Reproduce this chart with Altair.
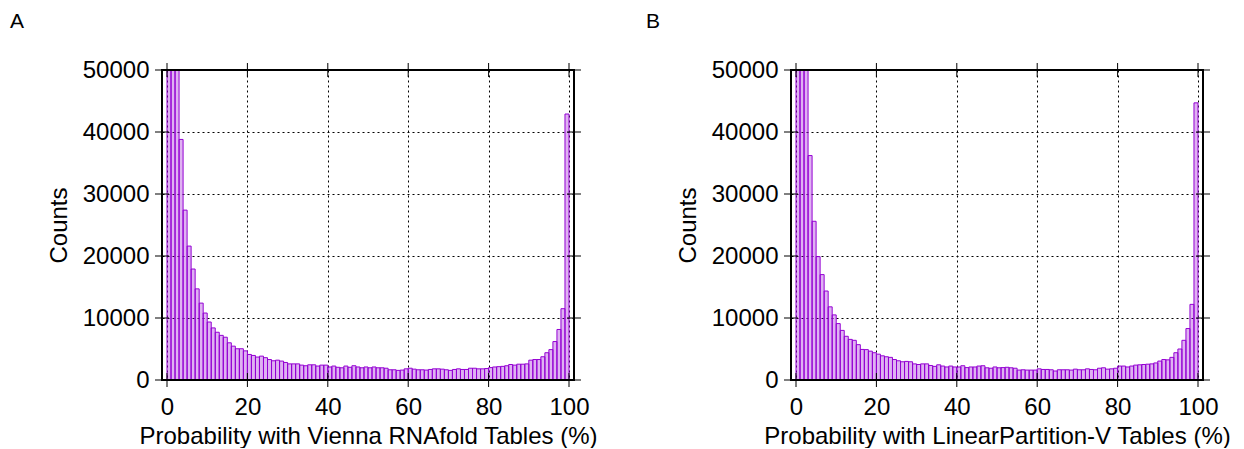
import altair as alt
import pandas as pd

bin_start = list(range(0, 100))
bin_end = list(range(1, 101))

counts_vienna = [
    150000, 90000, 62000, 38800, 27400, 21600, 17900, 14700, 12400, 10800,
    9350, 8400, 7700, 7200, 6900, 6000, 5460, 5040, 5040, 4700,
    4120, 3960, 3700, 3850, 3600, 3300, 3100, 3200, 3050, 2830,
    2600, 2600, 2600, 2400, 2300, 2450, 2450, 2250, 2400, 2400,
    2100, 2250, 2050, 1970, 2250, 2050, 2300, 2100, 1970, 2100,
    1970, 2100, 1970, 1970, 1900, 1650, 1650, 1550, 1600, 1800,
    1900, 1750, 1650, 1650, 1600, 1700, 1800, 1800, 1750, 1650,
    1550, 1700, 1800, 1700, 1700, 1900, 1900, 1800, 1800, 1850,
    2000, 2100, 2150, 2200, 2300, 2500, 2400, 2550, 2550, 2600,
    3200, 3300, 3300, 3750, 4400, 4900, 6200, 8150, 11500, 42900,
]

counts_linearpartition = [
    160000, 95000, 60000, 36200, 25600, 19900, 17000, 14350, 11800, 10500,
    9100, 8000, 7050, 6550, 6400, 5700, 4930, 4900, 4650, 4400,
    4170, 3900, 3750, 3650, 3300, 3100, 2940, 3000, 2940, 2600,
    2500, 2600, 2600, 2340, 2200, 2450, 2250, 2100, 2250, 2100,
    2100, 2300, 2000, 2100, 2100, 2250, 2300, 1970, 1900, 2100,
    1970, 2000, 2050, 1970, 1900, 1600, 1650, 1600, 1600, 1600,
    1800, 1700, 1700, 1650, 1450, 1650, 1650, 1650, 1600, 1750,
    1650, 1650, 1800, 1700, 1650, 1900, 1970, 1750, 1800, 1900,
    2250, 2250, 2100, 2250, 2400, 2450, 2500, 2550, 2600, 2750,
    3050, 3300, 3250, 3650, 4400, 5000, 6400, 8300, 12200, 44700,
]

x_ticks = [0, 20, 40, 60, 80, 100]
y_ticks = [0, 10000, 20000, 30000, 40000, 50000]

FONT = "Liberation Sans"
W, H = 412, 310
TICK = 7
BAR_COLOR = "#9400d3"
FS = 24


def panel(counts, xtitle, label, label_dx):
    df = pd.DataFrame({"start": bin_start, "end": bin_end, "count": counts})
    xt = pd.DataFrame({"v": x_ticks})
    yt = pd.DataFrame({"v": y_ticks})
    xscale = alt.Scale(domain=[0, 100], nice=False, zero=False)
    yscale = alt.Scale(domain=[0, 50000], nice=False)
    x_axis = alt.Axis(
        values=x_ticks, title=xtitle, grid=True, gridColor="black",
        gridDash=[2, 3], gridOpacity=1, gridWidth=1, ticks=False, domain=False,
        labelFont=FONT, labelFontSize=FS, labelColor="black", labelPadding=15,
        titleFont=FONT, titleFontSize=FS, titleFontWeight="normal",
        titleColor="black", titlePadding=5, labelFlush=False,
    )
    y_axis = alt.Axis(
        values=y_ticks, title="Counts", grid=True, gridColor="black",
        gridDash=[2, 3], gridOpacity=1, gridWidth=1, ticks=False, domain=False,
        labelFont=FONT, labelFontSize=FS, labelColor="black", labelPadding=13,
        titleFont=FONT, titleFontSize=FS, titleFontWeight="normal",
        titleColor="black", titlePadding=11, format="d", labelFlush=False,
    )
    bars = alt.Chart(df).mark_bar(
        clip=True, orient="vertical", stroke=BAR_COLOR, strokeWidth=1,
        fill=BAR_COLOR, fillOpacity=0.3,
    ).encode(
        x=alt.X("start:Q", scale=xscale, axis=x_axis),
        x2="end:Q",
        y=alt.Y("count:Q", scale=yscale, axis=y_axis),
        y2=alt.datum(0),
    )
    bottom = alt.Chart(xt).mark_tick(
        color="black", thickness=1, size=TICK * 2, orient="vertical", opacity=1
    ).encode(
        x=alt.X("v:Q", scale=xscale, axis=x_axis),
        y=alt.value(H),
    )
    top = alt.Chart(xt).mark_tick(
        color="black", thickness=1, size=TICK * 2, orient="vertical", opacity=1
    ).encode(
        x=alt.X("v:Q", scale=xscale, axis=x_axis),
        y=alt.value(0),
    )
    left = alt.Chart(yt).mark_tick(
        color="black", thickness=1, size=TICK * 2, orient="horizontal", opacity=1
    ).encode(
        y=alt.Y("v:Q", scale=yscale, axis=y_axis),
        x=alt.value(0),
    )
    right = alt.Chart(yt).mark_tick(
        color="black", thickness=1, size=TICK * 2, orient="horizontal", opacity=1
    ).encode(
        y=alt.Y("v:Q", scale=yscale, axis=y_axis),
        x=alt.value(W),
    )
    frame = alt.Chart(pd.DataFrame({"f": [0]})).mark_rect(
        fill="white", fillOpacity=0, stroke="black", strokeWidth=2
    ).encode(
        x=alt.value(0), x2=alt.value(W), y=alt.value(0), y2=alt.value(H)
    )
    return alt.layer(bars, bottom, top, left, right, frame).properties(
        width=W, height=H,
        title=alt.TitleParams(
            label, anchor="start", frame="group", font=FONT, fontSize=21,
            fontWeight="normal", color="black", offset=26, dx=label_dx,
        ),
    )


chart = alt.hconcat(
    panel(counts_vienna, "Probability with Vienna RNAfold Tables (%)", "A", -152),
    panel(counts_linearpartition, "Probability with LinearPartition-V Tables (%)", "B", -145),
    spacing=48,
).configure_view(strokeWidth=0).configure_axis(
    labelColor="black"
).properties(
    background="white",
    padding={"left": 2, "top": 3, "right": 0, "bottom": 0},
)

chart.save("out.html", embed_options={"renderer": "svg", "actions": False})
